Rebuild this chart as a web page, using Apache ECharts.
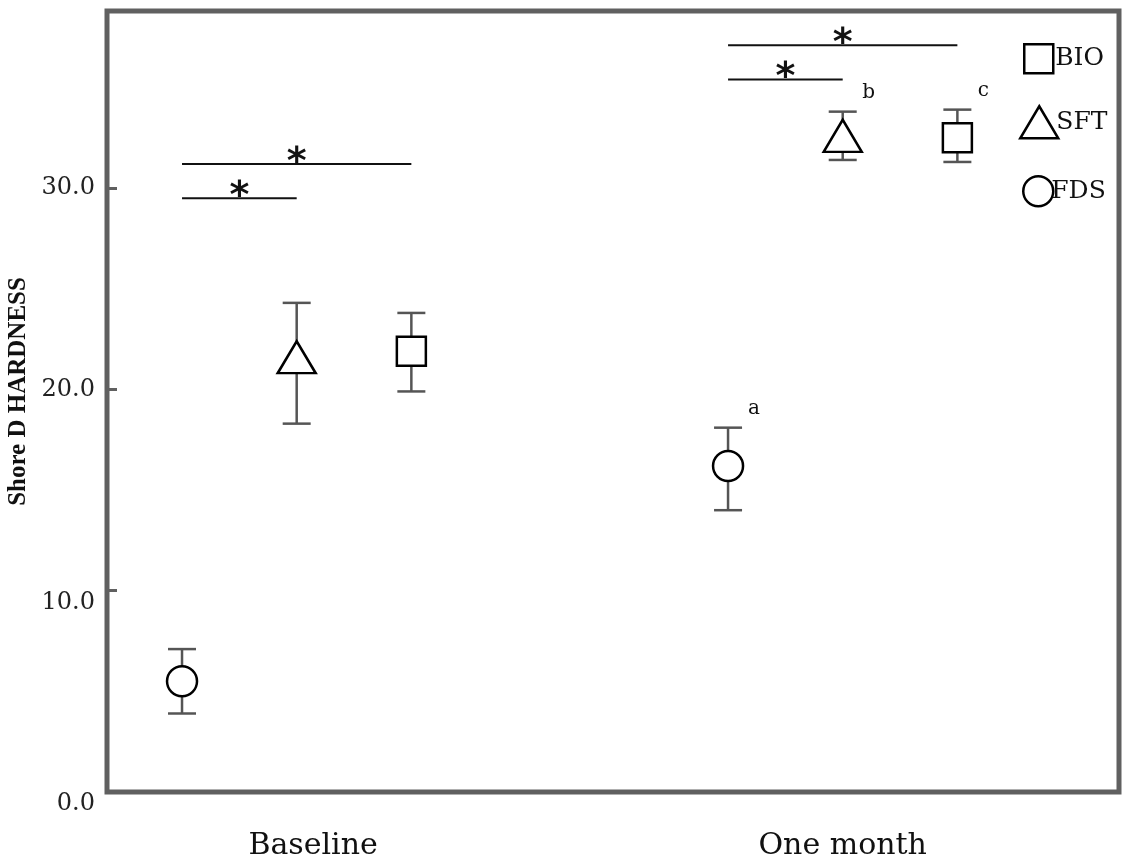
<!DOCTYPE html>
<html>
<head>
<meta charset="utf-8">
<script src="https://cdn.jsdelivr.net/npm/echarts@6/dist/echarts.min.js"></script>
<style>
html, body { margin: 0; padding: 0; background: #fff; }
#chart { width: 1122px; height: 858px; }
</style>
</head>
<body>
<div id="chart"></div>
<script>
// time points and where their groups sit on the x scale
const categories = ['Baseline', 'One month'];
const groupPos = [1, 2];
const labelPos = [1.03, 2];

// materials, drawn left to right inside each group
const materials = ['FDS', 'SFT', 'BIO'];
const offsets = [-0.21, 0, 0.21];

// Shore D hardness, mean and error bar ends per time point
const fdsMean = [5.5, 16.2];
const fdsLow = [3.9, 14.0];
const fdsHigh = [7.1, 18.1];
const sftMean = [21.6, 32.6];
const sftLow = [18.3, 31.4];
const sftHigh = [24.3, 33.8];
const bioMean = [21.9, 32.5];
const bioLow = [19.9, 31.3];
const bioHigh = [23.8, 33.9];

// superscript letters next to the one month points
const fdsLetter = ['', 'a'];
const sftLetter = ['', 'b'];
const bioLetter = ['', 'c'];

// significance bars: group, from material, to material, height
const sigGroup = [0, 0, 1, 1];
const sigFrom = [0, 0, 0, 0];
const sigTo = [2, 1, 2, 1];
const sigLevel = [31.2, 29.5, 37.1, 35.4];

const yTicks = [0, 10, 20, 30];

const means = [fdsMean, sftMean, bioMean];
const lows = [fdsLow, sftLow, bioLow];
const highs = [fdsHigh, sftHigh, bioHigh];
const letters = [fdsLetter, sftLetter, bioLetter];
const symbols = ['circle', 'triangle', 'rect'];
const sizes = [30, [38, 32], 29];

const serif = 'DejaVu Serif';

function xOf(g, m) {
  return groupPos[g] + offsets[m];
}

const series = [];

materials.forEach((name, m) => {
  series.push({
    name: name + ' error',
    type: 'custom',
    z: 1,
    data: groupPos.map((p, g) => [xOf(g, m), lows[m][g], highs[m][g]]),
    renderItem(params, api) {
      const x = api.value(0);
      const top = api.coord([x, api.value(2)]);
      const bot = api.coord([x, api.value(1)]);
      const cap = 14;
      const style = { stroke: '#555', lineWidth: 2.5 };
      const children = [
        { type: 'line', shape: { x1: top[0], y1: top[1], x2: bot[0], y2: bot[1] }, style },
        { type: 'line', shape: { x1: top[0] - cap, y1: top[1], x2: top[0] + cap, y2: top[1] }, style },
        { type: 'line', shape: { x1: bot[0] - cap, y1: bot[1], x2: bot[0] + cap, y2: bot[1] }, style }
      ];
      const letter = letters[m][params.dataIndex];
      if (letter) {
        children.push({
          type: 'text',
          style: {
            x: top[0] + 26, y: top[1] - 19, text: letter,
            font: '20px "' + serif + '"', fill: '#111',
            align: 'center', verticalAlign: 'middle'
          }
        });
      }
      return { type: 'group', children };
    }
  });
});

materials.forEach((name, m) => {
  series.push({
    name: name,
    type: 'scatter',
    z: 3,
    symbol: symbols[m],
    symbolSize: sizes[m],
    itemStyle: { color: '#fff', borderColor: '#000', borderWidth: 2.5, opacity: 1 },
    emphasis: { disabled: true },
    data: groupPos.map((p, g) => [xOf(g, m), means[m][g]])
  });
});

series.push({
  name: 'significance',
  type: 'custom',
  z: 2,
  data: sigLevel.map((lv, i) => [xOf(sigGroup[i], sigFrom[i]), xOf(sigGroup[i], sigTo[i]), lv]),
  renderItem(params, api) {
    const a = api.coord([api.value(0), api.value(2)]);
    const b = api.coord([api.value(1), api.value(2)]);
    return {
      type: 'group',
      children: [
        { type: 'line', shape: { x1: a[0], y1: a[1], x2: b[0], y2: b[1] }, style: { stroke: '#111', lineWidth: 2 } },
        {
          type: 'text',
          style: {
            x: (a[0] + b[0]) / 2, y: a[1] - 1, text: '*',
            font: 'bold 38px "DejaVu Sans"', fill: '#111',
            align: 'center', verticalAlign: 'middle'
          }
        }
      ]
    };
  }
});

const legendTops = [43, 105, 175];
const legendLefts = [1023, 1019, 1022];
const legendTextShift = [-3, -7, -7];
const legendOrder = [2, 1, 0];
const legend = legendOrder.map((m, i) => ({
  data: [materials[m]],
  left: legendLefts[i],
  top: legendTops[i],
  icon: symbols[m],
  itemWidth: Array.isArray(sizes[m]) ? sizes[m][0] : sizes[m],
  itemHeight: Array.isArray(sizes[m]) ? sizes[m][1] : sizes[m],
  itemGap: 0,
  padding: 0,
  selectedMode: false,
  itemStyle: { color: '#fff', borderColor: '#000', borderWidth: 2.5 },
  textStyle: { fontFamily: serif, fontSize: 25, color: '#111', padding: [0, 0, 0, legendTextShift[i]] }
}));

const chart = echarts.init(document.getElementById('chart'));
chart.setOption({
  backgroundColor: '#fff',
  animation: false,
  grid: {
    left: 107, right: 3, top: 11, bottom: 66,
    outerBoundsMode: 'none',
    show: true, borderColor: '#606060', borderWidth: 5, backgroundColor: 'transparent'
  },
  legend,
  xAxis: {
    type: 'value',
    min: 0.6526,
    max: 2.506,
    splitLine: { show: false },
    axisLine: { show: false },
    axisTick: { show: false },
    axisLabel: {
      customValues: labelPos,
      formatter: (v) => categories[labelPos.indexOf(v)] || '',
      margin: 39,
      fontFamily: serif,
      fontSize: 30,
      color: '#111'
    }
  },
  yAxis: {
    type: 'value',
    min: 0,
    max: 38.8,
    interval: 10,
    name: 'Shore D HARDNESS',
    nameLocation: 'middle',
    nameRotate: 90,
    nameGap: 73,
    nameTextStyle: {
      fontFamily: 'Liberation Serif', fontWeight: 'bold', fontSize: 25, color: '#111',
      padding: [0, 0, 0, 20]
    },
    splitLine: { show: false },
    axisLine: { show: false },
    axisTick: {
      show: true, inside: true, length: 10,
      customValues: yTicks,
      lineStyle: { color: '#606060', width: 3 }
    },
    axisLabel: {
      customValues: yTicks,
      formatter: (v) => (v <= 10 ? '{low|' + v.toFixed(1) + '}' : v.toFixed(1)),
      margin: 12,
      fontFamily: serif,
      fontSize: 24,
      color: '#222',
      rich: {
        low: { fontFamily: serif, fontSize: 24, color: '#222', padding: [24, 0, 0, 0] }
      }
    }
  },
  series
});
</script>
</body>
</html>
